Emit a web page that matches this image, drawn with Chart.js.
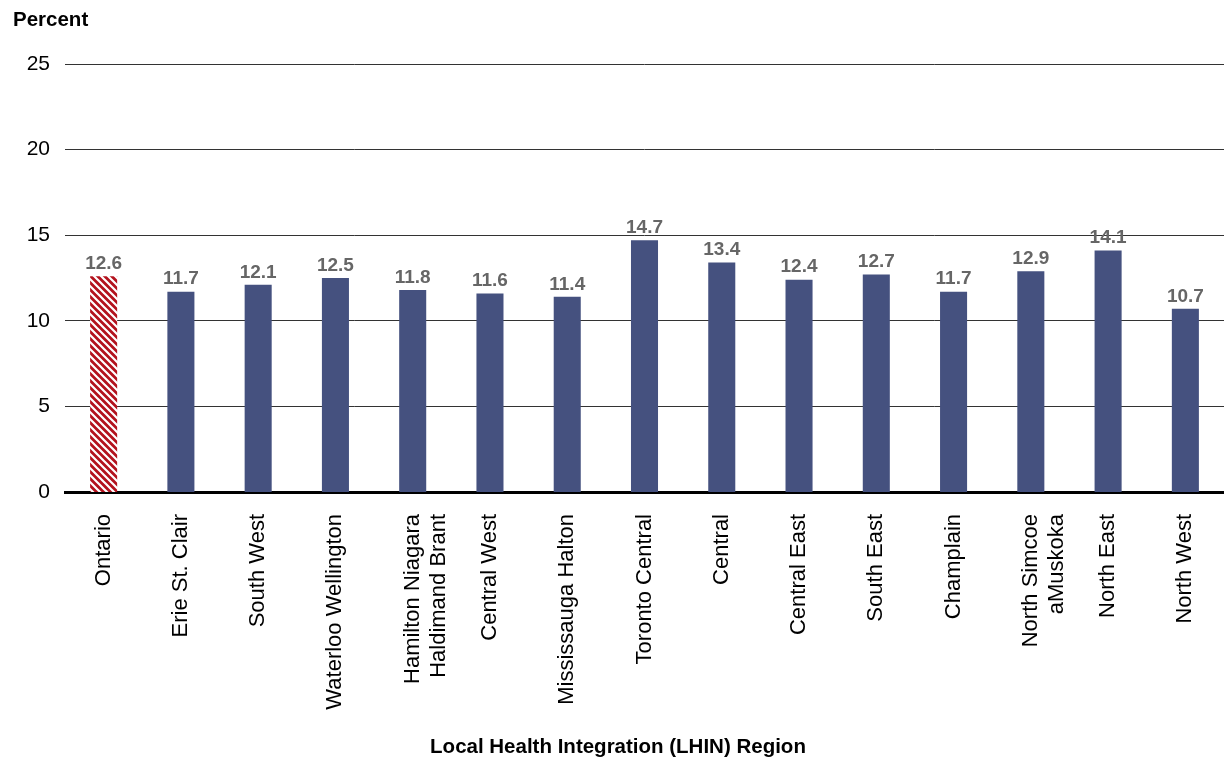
<!DOCTYPE html>
<html>
<head>
<meta charset="utf-8">
<script src="https://cdn.jsdelivr.net/npm/chart.js@4/dist/chart.umd.min.js"></script>
<style>
  html, body { margin: 0; padding: 0; background: #fff; }
  #wrap { width: 1224px; height: 760px; }
</style>
</head>
<body>
<div id="wrap"><canvas id="chart"></canvas></div>
<script>
/* =========================
   Data
========================= */

const regions = [
  "Ontario", "Erie St. Clair", "South West", "Waterloo Wellington",
  ["Hamilton Niagara", "Haldimand Brant"], "Central West", "Mississauga Halton",
  "Toronto Central", "Central", "Central East", "South East", "Champlain",
  ["North Simcoe", "aMuskoka"], "North East", "North West"
];
const percentValues = [12.6, 11.7, 12.1, 12.5, 11.8, 11.6, 11.4, 14.7, 13.4, 12.4, 12.7, 11.7, 12.9, 14.1, 10.7];
const yTicks = [0, 5, 10, 15, 20, 25];

const FONT = "'Liberation Sans', Arial, Helvetica, sans-serif";
const BLUE = "#45517f";
const RED = "#b3121d";

/* =========================
   Hatch pattern for Ontario
========================= */

function makeHatch() {
  const size = 7;
  const c = document.createElement("canvas");
  c.width = size;
  c.height = size;
  const g = c.getContext("2d");
  g.fillStyle = RED;
  g.fillRect(0, 0, size, size);
  g.strokeStyle = "#ffffff";
  g.lineWidth = 2.2;
  g.beginPath();
  g.moveTo(-size, 0); g.lineTo(size, 2 * size);
  g.moveTo(0, 0); g.lineTo(size, size);
  g.moveTo(0, -size); g.lineTo(2 * size, size);
  g.stroke();
  return g.createPattern(c, "repeat");
}

const hatch = makeHatch();
const barColors = percentValues.map((v, i) => i === 0 ? hatch : BLUE);

/* =========================
   Plugins: value labels + titles
========================= */

const valueLabels = {
  id: "valueLabels",
  afterDatasetsDraw(chart) {
    const ctx = chart.ctx;
    const meta = chart.getDatasetMeta(0);
    ctx.save();
    ctx.font = "bold 19px " + FONT;
    ctx.fillStyle = "#666666";
    ctx.textAlign = "center";
    ctx.textBaseline = "bottom";
    meta.data.forEach((bar, i) => {
      ctx.fillText(percentValues[i].toFixed(1), bar.x, bar.y - 3);
    });
    ctx.restore();
  }
};

const axisTitles = {
  id: "axisTitles",
  afterDraw(chart) {
    const ctx = chart.ctx;
    ctx.save();
    ctx.font = "bold 20.5px " + FONT;
    ctx.fillStyle = "#000000";
    ctx.textBaseline = "middle";
    ctx.textAlign = "left";
    ctx.fillText("Percent", 13, 20);
    ctx.textAlign = "center";
    ctx.fillText("Local Health Integration (LHIN) Region", 618, 747);
    ctx.restore();
  }
};

/* =========================
   Chart
========================= */

new Chart(document.getElementById("chart"), {
  type: "bar",
  data: {
    labels: regions,
    datasets: [{
      data: percentValues,
      backgroundColor: barColors,
      borderWidth: 0,
      barPercentage: 0.35,
      categoryPercentage: 1
    }]
  },
  options: {
    responsive: true,
    maintainAspectRatio: false,
    animation: false,
    layout: { padding: { top: 64, left: 0, right: 0, bottom: 0 } },
    plugins: {
      legend: { display: false },
      tooltip: { enabled: false }
    },
    scales: {
      x: {
        offset: true,
        grid: { display: false, drawTicks: false },
        border: { display: true, color: "#000", width: 3 },
        ticks: {
          color: "#000",
          font: { family: FONT, size: 22 },
          maxRotation: 90,
          minRotation: 90,
          padding: 22,
          autoSkip: false
        },
        afterFit(scale) {
          scale.height = 268;
          scale.paddingLeft = 0;
          scale.paddingRight = 0;
        }
      },
      y: {
        min: 0,
        max: 25,
        afterBuildTicks(scale) { scale.ticks = yTicks.map(v => ({ value: v })); },
        grid: {
          drawTicks: false,
          color: "#333",
          lineWidth: ctx => ctx.tick && ctx.tick.value === 0 ? 0 : 1
        },
        border: { display: false },
        ticks: {
          color: "#000",
          font: { family: FONT, size: 21 },
          padding: 15
        },
        afterFit(scale) {
          scale.width = 65;
          scale.paddingTop = 0;
          scale.paddingBottom = 0;
        }
      }
    }
  },
  plugins: [valueLabels, axisTitles]
});
</script>
</body>
</html>
